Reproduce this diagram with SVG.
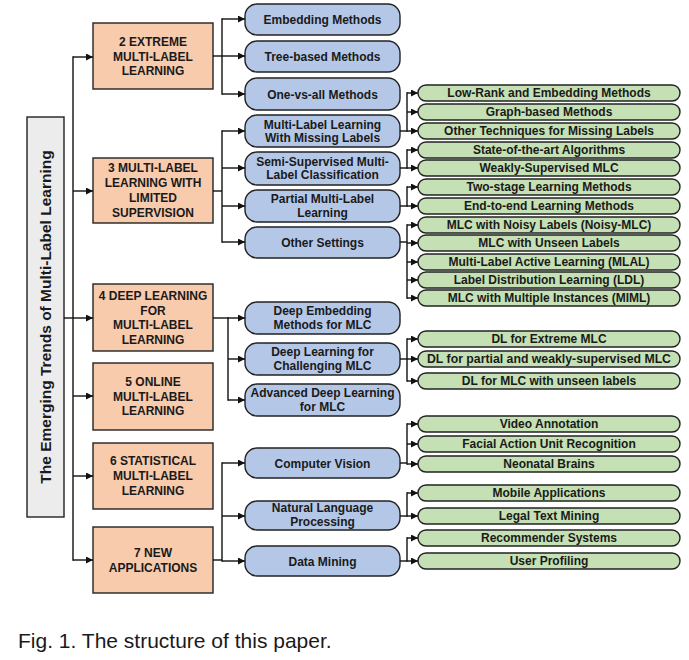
<svg xmlns="http://www.w3.org/2000/svg" width="689" height="660" viewBox="0 0 689 660">
<defs>
<marker id="arr" markerWidth="7" markerHeight="7" refX="7" refY="3.5" orient="auto" markerUnits="userSpaceOnUse">
<path d="M0,0 L7,3.5 L0,7 z" fill="#111"/>
</marker>
<style>
.t{font-family:"Liberation Sans",Arial,sans-serif;font-weight:bold;font-size:12px;fill:#1a1a1a;text-anchor:middle}
.root{fill:#ececec;stroke:#222;stroke-width:1.4}
.or{fill:#f8cbad;stroke:#222;stroke-width:1.4}
.bl{fill:#b4c7e7;stroke:#222;stroke-width:1.4}
.gr{fill:#c5e0b4;stroke:#222;stroke-width:1.4}
.c line{stroke:#111;stroke-width:1.4}
.c line.a{marker-end:url(#arr)}
</style>
</defs>
<rect width="689" height="660" fill="#fff"/>

<g id="root">
<rect class="root" x="27" y="117" width="37" height="400"/>
<text class="t" style="font-size:15.5px" transform="translate(51,317) rotate(-90)" x="0" y="0">The Emerging Trends of Multi-Label Learning</text>
</g>

<g id="o2"><rect class="or" x="93" y="23" width="120" height="66"/>
<text class="t" x="153" y="46">2 EXTREME</text><text class="t" x="153" y="60.5">MULTI-LABEL</text><text class="t" x="153" y="75">LEARNING</text></g>
<g id="o3"><rect class="or" x="93" y="158" width="120" height="65"/>
<text class="t" x="153" y="172">3 MULTI-LABEL</text><text class="t" x="153" y="187">LEARNING WITH</text><text class="t" x="153" y="201.5">LIMITED</text><text class="t" x="153" y="216.5">SUPERVISION</text></g>
<g id="o4"><rect class="or" x="93" y="284" width="120" height="67"/>
<text class="t" x="153" y="300">4 DEEP LEARNING</text><text class="t" x="153" y="314.5">FOR</text><text class="t" x="153" y="329">MULTI-LABEL</text><text class="t" x="153" y="343.5">LEARNING</text></g>
<g id="o5"><rect class="or" x="93" y="363" width="120" height="67"/>
<text class="t" x="153" y="386">5 ONLINE</text><text class="t" x="153" y="400.5">MULTI-LABEL</text><text class="t" x="153" y="415">LEARNING</text></g>
<g id="o6"><rect class="or" x="93" y="443" width="120" height="66"/>
<text class="t" x="153" y="465">6 STATISTICAL</text><text class="t" x="153" y="480">MULTI-LABEL</text><text class="t" x="153" y="494.5">LEARNING</text></g>
<g id="o7"><rect class="or" x="93" y="527" width="120" height="66"/>
<text class="t" x="153" y="557">7 NEW</text><text class="t" x="153" y="572">APPLICATIONS</text></g>

<g id="b1"><rect class="bl" x="245" y="4" width="155" height="31" rx="12"/><text class="t" x="322.5" y="23.5">Embedding Methods</text></g>
<g id="b2"><rect class="bl" x="245" y="41" width="155" height="31" rx="12"/><text class="t" x="322.5" y="60.5">Tree-based Methods</text></g>
<g id="b3"><rect class="bl" x="245" y="78" width="155" height="32" rx="12"/><text class="t" x="322.5" y="98.5">One-vs-all Methods</text></g>
<g id="b4"><rect class="bl" x="245" y="115" width="155" height="32" rx="12"/><text class="t" x="322.5" y="128.5">Multi-Label Learning</text><text class="t" x="322.5" y="142">With Missing Labels</text></g>
<g id="b5"><rect class="bl" x="245" y="152" width="155" height="33" rx="12"/><text class="t" x="322.5" y="165.5">Semi-Supervised Multi-</text><text class="t" x="322.5" y="179">Label Classification</text></g>
<g id="b6"><rect class="bl" x="245" y="190" width="155" height="32" rx="12"/><text class="t" x="322.5" y="203">Partial Multi-Label</text><text class="t" x="322.5" y="217">Learning</text></g>
<g id="b7"><rect class="bl" x="245" y="227" width="155" height="31" rx="12"/><text class="t" x="322.5" y="246.5">Other Settings</text></g>
<g id="b8"><rect class="bl" x="245" y="302" width="155" height="32" rx="12"/><text class="t" x="322.5" y="314.5">Deep Embedding</text><text class="t" x="322.5" y="328.5">Methods for MLC</text></g>
<g id="b9"><rect class="bl" x="245" y="343" width="155" height="32" rx="12"/><text class="t" x="322.5" y="356">Deep Learning for</text><text class="t" x="322.5" y="370">Challenging MLC</text></g>
<g id="b10"><rect class="bl" x="245" y="384" width="155" height="32" rx="12"/><text class="t" x="322.5" y="397">Advanced Deep Learning</text><text class="t" x="322.5" y="411">for MLC</text></g>
<g id="b11"><rect class="bl" x="245" y="448" width="155" height="30" rx="12"/><text class="t" x="322.5" y="467.5">Computer Vision</text></g>
<g id="b12"><rect class="bl" x="245" y="501" width="155" height="29" rx="12"/><text class="t" x="322.5" y="512">Natural Language</text><text class="t" x="322.5" y="526">Processing</text></g>
<g id="b13"><rect class="bl" x="245" y="546" width="155" height="30" rx="12"/><text class="t" x="322.5" y="565.5">Data Mining</text></g>

<g id="g1"><rect class="gr" x="418" y="85" width="262" height="16" rx="8"/><text class="t" x="549" y="97.3">Low-Rank and Embedding Methods</text></g>
<g id="g2"><rect class="gr" x="418" y="104" width="262" height="16" rx="8"/><text class="t" x="549" y="116.3">Graph-based Methods</text></g>
<g id="g3"><rect class="gr" x="418" y="123" width="262" height="16" rx="8"/><text class="t" x="549" y="135.3">Other Techniques for Missing Labels</text></g>
<g id="g4"><rect class="gr" x="418" y="142" width="262" height="16" rx="8"/><text class="t" x="549" y="154.3">State-of-the-art Algorithms</text></g>
<g id="g5"><rect class="gr" x="418" y="160" width="262" height="16" rx="8"/><text class="t" x="549" y="172.3">Weakly-Supervised MLC</text></g>
<g id="g6"><rect class="gr" x="418" y="179" width="262" height="16" rx="8"/><text class="t" x="549" y="191.3">Two-stage Learning Methods</text></g>
<g id="g7"><rect class="gr" x="418" y="198" width="262" height="16" rx="8"/><text class="t" x="549" y="210.3">End-to-end Learning Methods</text></g>
<g id="g8"><rect class="gr" x="418" y="217" width="262" height="16" rx="8"/><text class="t" x="549" y="229.3">MLC with Noisy Labels (Noisy-MLC)</text></g>
<g id="g9"><rect class="gr" x="418" y="235" width="262" height="16" rx="8"/><text class="t" x="549" y="247.3">MLC with Unseen Labels</text></g>
<g id="g10"><rect class="gr" x="418" y="254" width="262" height="16" rx="8"/><text class="t" x="549" y="266.3">Multi-Label Active Learning (MLAL)</text></g>
<g id="g11"><rect class="gr" x="418" y="272" width="262" height="16" rx="8"/><text class="t" x="549" y="284.3">Label Distribution Learning (LDL)</text></g>
<g id="g12"><rect class="gr" x="418" y="290" width="262" height="16" rx="8"/><text class="t" x="549" y="302.3">MLC with Multiple Instances (MIML)</text></g>
<g id="g13"><rect class="gr" x="418" y="331" width="262" height="16" rx="8"/><text class="t" x="549" y="343.3">DL for Extreme MLC</text></g>
<g id="g14"><rect class="gr" x="418" y="351" width="262" height="16" rx="8"/><text class="t" x="549" y="363.3" textLength="244" lengthAdjust="spacingAndGlyphs">DL for partial and weakly-supervised MLC</text></g>
<g id="g15"><rect class="gr" x="418" y="373" width="262" height="16" rx="8"/><text class="t" x="549" y="385.3">DL for MLC with unseen labels</text></g>
<g id="g16"><rect class="gr" x="418" y="416" width="262" height="16" rx="8"/><text class="t" x="549" y="428.3">Video Annotation</text></g>
<g id="g17"><rect class="gr" x="418" y="436" width="262" height="16" rx="8"/><text class="t" x="549" y="448.3">Facial Action Unit Recognition</text></g>
<g id="g18"><rect class="gr" x="418" y="456" width="262" height="16" rx="8"/><text class="t" x="549" y="468.3">Neonatal Brains</text></g>
<g id="g19"><rect class="gr" x="418" y="485" width="262" height="16" rx="8"/><text class="t" x="549" y="497.3">Mobile Applications</text></g>
<g id="g20"><rect class="gr" x="418" y="508" width="262" height="16" rx="8"/><text class="t" x="549" y="520.3">Legal Text Mining</text></g>
<g id="g21"><rect class="gr" x="418" y="530" width="262" height="16" rx="8"/><text class="t" x="549" y="542.3">Recommender Systems</text></g>
<g id="g22"><rect class="gr" x="418" y="553" width="262" height="16" rx="8"/><text class="t" x="549" y="565.3">User Profiling</text></g>

<g id="connectors" class="c">
<line x1="64" y1="318" x2="73" y2="318"/>
<line x1="73" y1="56.3" x2="73" y2="560.7"/>
<line class="a" x1="73" y1="57" x2="93" y2="57"/>
<line class="a" x1="73" y1="191" x2="93" y2="191"/>
<line class="a" x1="73" y1="318" x2="93" y2="318"/>
<line class="a" x1="73" y1="396" x2="93" y2="396"/>
<line class="a" x1="73" y1="476" x2="93" y2="476"/>
<line class="a" x1="73" y1="560" x2="93" y2="560"/>

<line x1="213" y1="56" x2="222" y2="56"/>
<line x1="222" y1="18.3" x2="222" y2="94.7"/>
<line class="a" x1="222" y1="19" x2="245" y2="19"/>
<line class="a" x1="222" y1="56" x2="245" y2="56"/>
<line class="a" x1="222" y1="94" x2="245" y2="94"/>

<line x1="213" y1="191" x2="222" y2="191"/>
<line x1="222" y1="130.3" x2="222" y2="242.7"/>
<line class="a" x1="222" y1="131" x2="245" y2="131"/>
<line class="a" x1="222" y1="168" x2="245" y2="168"/>
<line class="a" x1="222" y1="206" x2="245" y2="206"/>
<line class="a" x1="222" y1="242" x2="245" y2="242"/>

<line class="a" x1="213" y1="318" x2="245" y2="318"/>
<line x1="228" y1="317.3" x2="228" y2="400.7"/>
<line class="a" x1="228" y1="359" x2="245" y2="359"/>
<line class="a" x1="228" y1="400" x2="245" y2="400"/>

<line x1="213" y1="560" x2="222" y2="560"/>
<line x1="222" y1="462.3" x2="222" y2="561.7"/>
<line class="a" x1="222" y1="463" x2="245" y2="463"/>
<line class="a" x1="222" y1="516" x2="245" y2="516"/>
<line class="a" x1="222" y1="561" x2="245" y2="561"/>

<line x1="400" y1="131" x2="407" y2="131"/>
<line x1="407" y1="92.3" x2="407" y2="131.7"/>
<line class="a" x1="407" y1="93" x2="418" y2="93"/>
<line class="a" x1="407" y1="112" x2="418" y2="112"/>
<line class="a" x1="407" y1="131" x2="418" y2="131"/>

<line x1="400" y1="168" x2="407" y2="168"/>
<line x1="407" y1="149.3" x2="407" y2="168.7"/>
<line class="a" x1="407" y1="150" x2="418" y2="150"/>
<line class="a" x1="407" y1="168" x2="418" y2="168"/>

<line x1="400" y1="206" x2="407" y2="206"/>
<line x1="407" y1="186.3" x2="407" y2="206.7"/>
<line class="a" x1="407" y1="187" x2="418" y2="187"/>
<line class="a" x1="407" y1="206" x2="418" y2="206"/>

<line x1="400" y1="242" x2="407" y2="242"/>
<line x1="407" y1="224.3" x2="407" y2="298.7"/>
<line class="a" x1="407" y1="225" x2="418" y2="225"/>
<line class="a" x1="407" y1="243" x2="418" y2="243"/>
<line class="a" x1="407" y1="262" x2="418" y2="262"/>
<line class="a" x1="407" y1="280" x2="418" y2="280"/>
<line class="a" x1="407" y1="298" x2="418" y2="298"/>

<line x1="400" y1="359" x2="407" y2="359"/>
<line x1="407" y1="338.3" x2="407" y2="381.7"/>
<line class="a" x1="407" y1="339" x2="418" y2="339"/>
<line class="a" x1="407" y1="359" x2="418" y2="359"/>
<line class="a" x1="407" y1="381" x2="418" y2="381"/>

<line x1="400" y1="463" x2="407" y2="463"/>
<line x1="407" y1="423.3" x2="407" y2="464.7"/>
<line class="a" x1="407" y1="424" x2="418" y2="424"/>
<line class="a" x1="407" y1="444" x2="418" y2="444"/>
<line class="a" x1="407" y1="464" x2="418" y2="464"/>

<line x1="400" y1="516" x2="407" y2="516"/>
<line x1="407" y1="492.3" x2="407" y2="516.7"/>
<line class="a" x1="407" y1="493" x2="418" y2="493"/>
<line class="a" x1="407" y1="516" x2="418" y2="516"/>

<line x1="400" y1="561" x2="407" y2="561"/>
<line x1="407" y1="537.3" x2="407" y2="561.7"/>
<line class="a" x1="407" y1="538" x2="418" y2="538"/>
<line class="a" x1="407" y1="561" x2="418" y2="561"/>
</g>

<text x="18" y="648" style="font-family:'Liberation Sans',Arial,sans-serif;font-size:21px;fill:#1a1a1a">Fig. 1. The structure of this paper.</text>
</svg>
